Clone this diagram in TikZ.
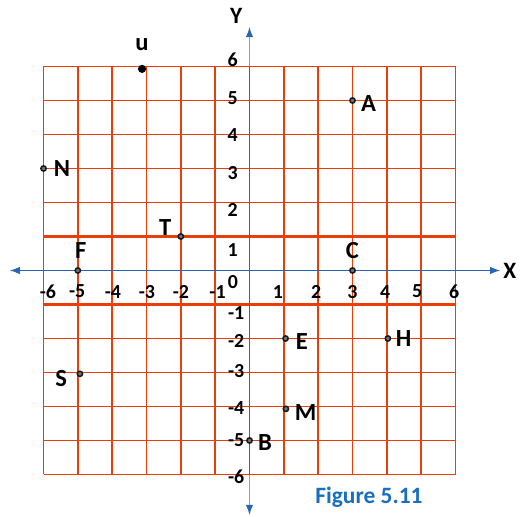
\documentclass[tikz,border=0pt]{standalone}
\usepackage{fontspec}
\setmainfont{Carlito}
\usetikzlibrary{arrows.meta, positioning}
\definecolor{gridred}{RGB}{232, 62, 10}
\definecolor{axisblue}{RGB}{40, 100, 180}
\definecolor{axislight}{RGB}{125, 165, 215}
\definecolor{axisbrown}{RGB}{135, 78, 72}
\definecolor{figblue}{RGB}{25, 110, 190}

\begin{document}
\begin{tikzpicture}[x=1.03cm, y=1.02cm,
  gridline/.style={gridred, line width=1.2pt},
  pt/.style={circle, draw=black!90, fill=black!55, line width=1.3pt, minimum size=4.5pt, inner sep=0pt},
  lbl/.style={font=\fontsize{21}{21}\selectfont\bfseries, inner sep=0pt},
  tick/.style={font=\fontsize{17}{17}\selectfont\bfseries, inner sep=0pt}]
\useasboundingbox (-7.268,-7.25) rectangle (7.908,7.956);

% axis ends
\coordinate (xleft) at (-6.98,0);
\coordinate (xright) at (7.30,0);
\coordinate (ybot) at (0,-7.19);
\coordinate (ytop) at (0,7.16);

% y axis first, grid goes over it
\draw[axislight, line width=1pt, {Latex[color=axisblue, length=3mm, width=2.2mm]}-{Latex[color=axisblue, length=3mm, width=2.2mm]}] (ybot) -- (ytop);

% grid
\foreach \x in {-6,...,6}
  \draw[gridline] (\x,-6) -- (\x,6);
\foreach \y in {-6,...,-1,1,2,...,6}
  \draw[gridline] (-6,\y) -- (6,\y);
\draw[gridline, line width=1.9pt] (-1,-6) -- (-1,6) (1,-6) -- (1,6) (-6,1) -- (6,1) (-6,-1) -- (6,-1);
\draw[axisbrown, line width=1.2pt] (0,-6) -- (0,6);

% x axis
\draw[axisblue, line width=0.8pt, {Latex[length=3mm, width=2.2mm]}-{Latex[length=3mm, width=2.2mm]}] (xleft) -- (xright);
\node[lbl, font=\fontsize{20}{20}\selectfont\bfseries] (xname) at (7.58,0) {X};
\node[lbl, font=\fontsize{20}{20}\selectfont\bfseries] (yname) at (-0.39,7.49) {Y};

% tick labels
\foreach \v/\xx [count=\i] in {-6/-5.87, -5/-5.02, -4/-3.98, -3/-2.99, -2/-2.0, -1/-0.93, 1/0.83, 2/1.94, 3/3.0, 4/3.95, 5/4.88, 6/5.96}
  \node[tick] (xt\i) at (\xx,-0.62) {\v};
\foreach \v/\yy [count=\i] in {6/6.19, 5/5.07, 4/3.98, 3/2.87, 2/1.78, 1/0.6}
  \node[tick] (yp\i) at (-0.49,\yy) {\v};
\foreach \v/\yy [count=\i] in {-1/-1.25, -2/-2.07, -3/-2.96, -4/-4.04, -5/-4.99, -6/-6.07}
  \node[tick] (yn\i) at (-0.39,\yy) {\v};
\node[tick] (zero) at (-0.48,-0.34) {0};

% points
\node[circle, fill=black, minimum size=7pt, inner sep=0pt] (u) at (-3.13,5.93) {};
\node[lbl, above=0.42cm of u] (lu) {u};
\node[pt] (N) at (-6,3) {};
\node[lbl, right=0.2cm of N] (lN) {N};
\node[pt] (T) at (-2,1) {};
\node[lbl, left=0.18cm of T, yshift=8pt] (lT) {T};
\node[pt] (F) at (-5,0) {};
\node[lbl, above=0.25cm of F, xshift=2.5pt] (lF) {F};
\node[pt] (A) at (3,5) {};
\node[lbl, right=0.15cm of A, yshift=-2.5pt] (lA) {A};
\node[pt] (C) at (3,0) {};
\node[lbl, above=0.25cm of C] (lC) {C};
\node[pt] (E) at (1.05,-2) {};
\node[lbl, right=0.2cm of E, yshift=-2.5pt] (lE) {E};
\node[pt] (H) at (4.03,-2) {};
\node[lbl, right=0.13cm of H] (lH) {H};
\node[pt] (M) at (1.06,-4.07) {};
\node[lbl, right=0.16cm of M, yshift=-3.5pt] (lM) {M};
\node[pt] (B) at (0,-5) {};
\node[lbl, right=0.15cm of B, yshift=-2pt] (lB) {B};
\node[pt] (S) at (-4.94,-3.04) {};
\node[lbl, left=0.28cm of S, yshift=-4pt] (lS) {S};

\node[font=\fontsize{20}{20}\selectfont\bfseries, text=figblue, inner sep=0pt] (fig) at (3.48,-6.66) {Figure 5.11};
\end{tikzpicture}
\end{document}
